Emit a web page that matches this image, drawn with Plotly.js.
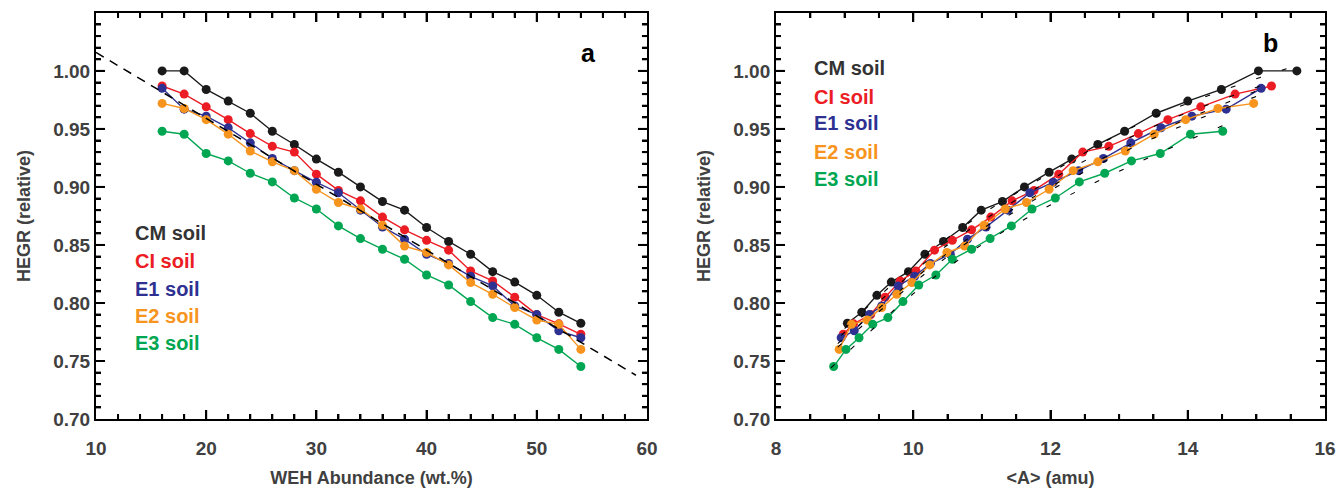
<!DOCTYPE html>
<html>
<head>
<meta charset="utf-8">
<script src="https://cdn.plot.ly/plotly-3.0.1.min.js"></script>
<style>html,body{margin:0;padding:0;background:#fff;}#chart{width:1337px;height:488px;}</style>
</head>
<body>
<div id="chart"></div>
<script>
// ---- Panel a: HEGR vs WEH abundance ----
const weh = [16,18,20,22,24,26,28,30,32,34,36,38,40,42,44,46,48,50,52,54];
const hegrCM = [1.000,1.000,0.984,0.974,0.9635,0.948,0.9366,0.924,0.9127,0.900,0.8874,0.880,0.865,0.853,0.842,0.827,0.818,0.8066,0.792,0.7825];
const hegrCI = [0.987,0.980,0.969,0.958,0.946,0.935,0.930,0.911,0.897,0.888,0.874,0.863,0.854,0.8455,0.8276,0.819,0.805,0.790,0.782,0.773];
const hegrE1 = [0.985,0.967,0.961,0.951,0.938,0.9245,0.914,0.904,0.895,0.880,0.8655,0.855,0.842,0.834,0.823,0.8147,0.7974,0.790,0.776,0.770];
const hegrE2 = [0.972,0.9676,0.958,0.9455,0.931,0.9216,0.914,0.898,0.8866,0.881,0.867,0.849,0.8435,0.8328,0.8176,0.8075,0.796,0.7853,0.7816,0.760];
const hegrE3 = [0.948,0.9454,0.9288,0.9224,0.9118,0.9043,0.8905,0.881,0.8664,0.8555,0.8463,0.8377,0.8241,0.8155,0.8012,0.7874,0.7816,0.770,0.760,0.7452];
// dashed linear fit in panel a
const fitWehX = [10, 59];
const fitWehY = [1.0159, 0.7377];

// ---- Panel b: HEGR vs mean atomic mass <A> ----
const aCM = [15.59,15.03,14.49,14.00,13.54,13.08,12.69,12.31,11.98,11.62,11.30,10.99,10.72,10.44,10.17,9.93,9.68,9.47,9.25,9.04];
const aCI = [15.22,14.69,14.19,13.71,13.28,12.85,12.47,12.12,11.76,11.44,11.13,10.85,10.57,10.31,10.04,9.81,9.59,9.38,9.13,8.98];
const aE1 = [15.07,14.56,14.06,13.61,13.17,12.77,12.41,12.04,11.70,11.38,11.06,10.79,10.54,10.25,10.02,9.78,9.54,9.36,9.14,8.95];
const aE2 = [14.96,14.44,13.97,13.51,13.09,12.69,12.33,11.98,11.65,11.34,11.03,10.75,10.49,10.24,9.98,9.76,9.54,9.33,9.10,8.92];
const aE3 = [14.51,14.04,13.60,13.18,12.79,12.42,12.07,11.73,11.43,11.12,10.85,10.57,10.33,10.08,9.85,9.63,9.41,9.21,9.02,8.84];
// dashed fit curves in panel b
const fitCMx = [9.0,10.5,12.0,13.5,15.6];   const fitCMy = [0.778,0.856,0.912,0.960,1.005];
const fitCIx = [8.95,10.5,12.0,13.5,15.3];  const fitCIy = [0.772,0.850,0.906,0.952,0.992];
const fitE1x = [8.9,10.5,12.0,13.5,15.1];   const fitE1y = [0.765,0.843,0.900,0.946,0.985];
const fitE2x = [8.9,10.5,12.0,13.5,15.0];   const fitE2y = [0.762,0.840,0.897,0.942,0.978];
const fitE3x = [8.8,10.3,11.8,13.2,14.6];   const fitE3y = [0.744,0.822,0.878,0.919,0.955];

// tick values
const xMajorA = [20,30,40,50];
const xMajorB = [10,12,14];
const yMajor = [0.75,0.80,0.85,0.90,0.95,1.00];

const soilNames = ['CM soil','CI soil','E1 soil','E2 soil','E3 soil'];
const soilColors = ['#1a1a1a','#ec1c24','#2e3192','#f7941d','#00a651'];
const legendTextColors = ['#333333','#ec1c24','#2e3192','#f7941d','#00a651'];

const FONT = 'Liberation Sans';
const hegrSets = [hegrCM, hegrCI, hegrE1, hegrE2, hegrE3];
const aSets = [aCM, aCI, aE1, aE2, aE3];
const fitBx = [fitCMx, fitCIx, fitE1x, fitE2x, fitE3x];
const fitBy = [fitCMy, fitCIy, fitE1y, fitE2y, fitE3y];

const traces = [];
hegrSets.forEach((ys, i) => {
  traces.push({x: weh, y: ys, xaxis:'x', yaxis:'y', type:'scatter', mode:'lines+markers',
    name: soilNames[i], line:{color: soilColors[i], width:1.4},
    marker:{color: soilColors[i], size:9}});
});
traces.push({x: fitWehX, y: fitWehY, xaxis:'x', yaxis:'y', type:'scatter', mode:'lines',
  line:{color:'#000', width:1.5, dash:'9px,7px'}, name:'fit'});
aSets.forEach((xs, i) => {
  traces.push({x: xs, y: hegrSets[i], xaxis:'x2', yaxis:'y2', type:'scatter', mode:'lines+markers',
    name: soilNames[i], line:{color: soilColors[i], width:1.4},
    marker:{color: soilColors[i], size:9}});
});
fitBx.forEach((xs, i) => {
  traces.push({x: xs, y: fitBy[i], xaxis:'x2', yaxis:'y2', type:'scatter', mode:'lines',
    line:{color:'#000', width:1.1, dash:'5px,22px', shape:'spline'}, name:'fit '+soilNames[i]});
});

const tickFont = {family: FONT, size: 19, color:'#404040', weight:'bold'};
const titleFont = {family: FONT, size: 18, color:'#404040', weight:'bold'};

function xAxis(domain, range, dtick, minorDtick, title, anchor) {
  return {domain: domain, range: range, anchor: anchor, dtick: dtick,
    ticks:'inside', ticklen:9, tickwidth:2, tickcolor:'#000',
    minor:{dtick: minorDtick, ticks:'inside', ticklen:5, tickwidth:2},
    showline:true, linewidth:2, linecolor:'#000', mirror:'allticks',
    showgrid:false, zeroline:false, tickfont: tickFont, ticklabelstandoff: 11,
    title:{text: title, font: titleFont, standoff: 14}};
}
function yAxis(anchor) {
  return {domain:[0,1], range:[0.70,1.0499], anchor: anchor, dtick:0.05, tick0:0.70, tickformat:'.2f',
    ticks:'inside', ticklen:9, tickwidth:2, tickcolor:'#000',
    minor:{dtick:0.01, ticks:'inside', ticklen:5, tickwidth:2},
    showline:true, linewidth:2, linecolor:'#000', mirror:'allticks',
    showgrid:false, zeroline:false, tickfont: tickFont,
    title:{text:'HEGR (relative)', font: titleFont, standoff: 18}};
}

// tick marks drawn as axis-referenced shapes (pixel lengths), inside the frame on all four sides
const shapes = [];
function xTick(xr, yr, v, len) {
  shapes.push({type:'line', layer:'above', xref:xr, yref:yr+' domain', x0:v, x1:v, ysizemode:'pixel', yanchor:0, y0:0, y1:len, line:{color:'#000', width:2}});
  shapes.push({type:'line', layer:'above', xref:xr, yref:yr+' domain', x0:v, x1:v, ysizemode:'pixel', yanchor:1, y0:0, y1:-len, line:{color:'#000', width:2}});
}
function yTick(xr, yr, v, len) {
  shapes.push({type:'line', layer:'above', xref:xr+' domain', yref:yr, y0:v, y1:v, xsizemode:'pixel', xanchor:0, x0:0, x1:len, line:{color:'#000', width:2}});
  shapes.push({type:'line', layer:'above', xref:xr+' domain', yref:yr, y0:v, y1:v, xsizemode:'pixel', xanchor:1, x0:0, x1:-len, line:{color:'#000', width:2}});
}
xMajorA.forEach(v => xTick('x','y',v,9));
for (let i = 1; i < 25; i++) { const v = 10 + 2*i; if (v % 10 !== 0) xTick('x','y',v,5); }
xMajorB.forEach(v => xTick('x2','y2',v,9));
for (let i = 1; i < 16; i++) { const v = 8 + 0.5*i; if (v % 2 !== 0) xTick('x2','y2',v,5); }
[['x','y'],['x2','y2']].forEach(([xr, yr]) => {
  yMajor.forEach(v => yTick(xr, yr, v, 9));
  for (let i = 1; i < 35; i++) { if (i % 5 !== 0) yTick(xr, yr, Math.round((0.70 + 0.01*i)*1000)/1000, 5); }
});

const annotations = [];
const legAy = [0.458, 0.389, 0.320, 0.254, 0.187];
const legBy = [0.8645, 0.793, 0.729, 0.658, 0.591];
soilNames.forEach((n, i) => {
  annotations.push({xref:'paper', yref:'paper', x:0.0301, y:legAy[i], xanchor:'left', yanchor:'middle',
    text:n, showarrow:false, font:{family:FONT, size:20, color:legendTextColors[i], weight:'bold'}});
  annotations.push({xref:'paper', yref:'paper', x:0.5826, y:legBy[i], xanchor:'left', yanchor:'middle',
    text:n, showarrow:false, font:{family:FONT, size:20, color:legendTextColors[i], weight:'bold'}});
});
annotations.push({xref:'paper', yref:'paper', x:0.401, y:0.901, xanchor:'center', yanchor:'middle',
  text:'a', showarrow:false, font:{family:FONT, size:25, color:'#000', weight:'bold'}});
annotations.push({xref:'paper', yref:'paper', x:0.956, y:0.926, xanchor:'center', yanchor:'middle',
  text:'b', showarrow:false, font:{family:FONT, size:25, color:'#000', weight:'bold'}});

const layout = {
  width:1337, height:488,
  margin:{l:96, r:12, t:13, b:69},
  showlegend:false,
  xaxis: xAxis([0,0.4483],[10,60],10,2,'WEH Abundance (wt.%)','y'),
  yaxis: yAxis('x'),
  xaxis2: xAxis([0.5533,1],[8,16],2,0.5,'&lt;A&gt; (amu)','y2'),
  yaxis2: yAxis('x2'),
  annotations: annotations,
  shapes: shapes
};

Plotly.newPlot('chart', traces, layout, {displayModeBar:false, staticPlot:true});
</script>
</body>
</html>
